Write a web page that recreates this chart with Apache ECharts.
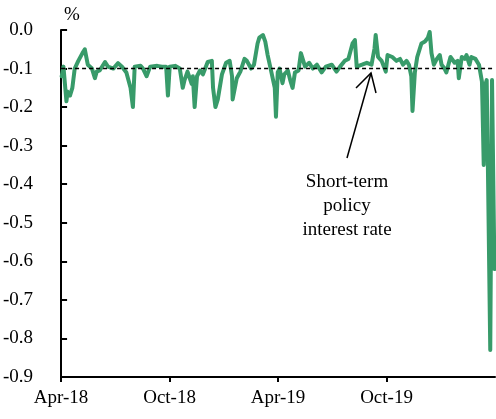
<!DOCTYPE html>
<html>
<head>
<meta charset="utf-8">
<script src="https://cdn.jsdelivr.net/npm/echarts@6.0.0/dist/echarts.min.js"></script>
<style>
  html, body { margin: 0; padding: 0; background: #fff; }
  #chart { width: 496px; height: 419px; }
</style>
</head>
<body>
<div id="chart"></div>
<script>
// x axis: Apr-18 .. Apr-20, ticks every half year
const startDate = '2018-04-01'
const totalDays = 731
const tickLabels = ['Apr-18', 'Oct-18', 'Apr-19', 'Oct-19', '']

// short-term money market rate, %
const dates = [
  '2018-04-02', '2018-04-05', '2018-04-10', '2018-04-12', '2018-04-16', '2018-04-20', '2018-04-24', '2018-04-30',
  '2018-05-07', '2018-05-11', '2018-05-14', '2018-05-16', '2018-05-23', '2018-05-28', '2018-05-31',
  '2018-06-05', '2018-06-14', '2018-06-19', '2018-06-28',
  '2018-07-06', '2018-07-13', '2018-07-20', '2018-07-27', '2018-07-31',
  '2018-08-03', '2018-08-13', '2018-08-17', '2018-08-23', '2018-08-29',
  '2018-09-10', '2018-09-18', '2018-09-25', '2018-09-28',
  '2018-10-01', '2018-10-10', '2018-10-18', '2018-10-23', '2018-10-26', '2018-10-31',
  '2018-11-07', '2018-11-09', '2018-11-12', '2018-11-16', '2018-11-21', '2018-11-26',
  '2018-12-04', '2018-12-11', '2018-12-13', '2018-12-17', '2018-12-21', '2018-12-28',
  '2019-01-04', '2019-01-10', '2019-01-14', '2019-01-15', '2019-01-22', '2019-01-28',
  '2019-02-04', '2019-02-08', '2019-02-15', '2019-02-20', '2019-02-26',
  '2019-03-01', '2019-03-07', '2019-03-11', '2019-03-15', '2019-03-20', '2019-03-27', '2019-03-29',
  '2019-04-01', '2019-04-04', '2019-04-09', '2019-04-12', '2019-04-18', '2019-04-22', '2019-04-26', '2019-04-30',
  '2019-05-06', '2019-05-10', '2019-05-17', '2019-05-24', '2019-05-30',
  '2019-06-06', '2019-06-14', '2019-06-21',
  '2019-07-01', '2019-07-09', '2019-07-15', '2019-07-23', '2019-07-29',
  '2019-08-05', '2019-08-09', '2019-08-12', '2019-08-21', '2019-08-29',
  '2019-09-06', '2019-09-11', '2019-09-13', '2019-09-17', '2019-09-23', '2019-09-30',
  '2019-10-03', '2019-10-11', '2019-10-18', '2019-10-24', '2019-10-29',
  '2019-11-04', '2019-11-08', '2019-11-12', '2019-11-14', '2019-11-18', '2019-11-22', '2019-11-29',
  '2019-12-05', '2019-12-10', '2019-12-13', '2019-12-16', '2019-12-20', '2019-12-25', '2019-12-30',
  '2020-01-02', '2020-01-07', '2020-01-10', '2020-01-17', '2020-01-24', '2020-01-29', '2020-01-31',
  '2020-02-05', '2020-02-10', '2020-02-13', '2020-02-18', '2020-02-21', '2020-02-28',
  '2020-03-05', '2020-03-10', '2020-03-11', '2020-03-13', '2020-03-16', '2020-03-18', '2020-03-20',
  '2020-03-24', '2020-03-27', '2020-03-31'
]
const rates = [
  -0.12, -0.095, -0.185, -0.16, -0.17, -0.15, -0.10, -0.08,
  -0.06, -0.05, -0.05, -0.09, -0.10, -0.125, -0.108,
  -0.105, -0.083, -0.095, -0.10,
  -0.086, -0.096, -0.11, -0.15, -0.20,
  -0.095, -0.093, -0.10, -0.12, -0.095,
  -0.093, -0.095, -0.095, -0.17,
  -0.095, -0.093, -0.10, -0.15, -0.13, -0.108,
  -0.14, -0.12, -0.20, -0.12, -0.105, -0.115,
  -0.083, -0.08, -0.15, -0.20, -0.18, -0.115,
  -0.085, -0.08, -0.12, -0.18, -0.125, -0.108,
  -0.075, -0.08, -0.10, -0.09, -0.035,
  -0.02, -0.013, -0.03, -0.065, -0.10, -0.15, -0.225,
  -0.11, -0.10, -0.138, -0.115, -0.105, -0.13, -0.15, -0.11,
  -0.105, -0.06, -0.095, -0.085, -0.10,
  -0.09, -0.11, -0.095,
  -0.09, -0.108, -0.095, -0.08, -0.075,
  -0.035, -0.026, -0.095, -0.09, -0.085,
  -0.09, -0.048, -0.013, -0.07, -0.08, -0.108,
  -0.065, -0.07, -0.08, -0.075, -0.09,
  -0.08, -0.09, -0.12, -0.21, -0.11, -0.07, -0.035,
  -0.03, -0.02, -0.005, -0.06, -0.09, -0.075, -0.065,
  -0.09, -0.10, -0.11, -0.07, -0.085, -0.08, -0.125,
  -0.07, -0.075, -0.065, -0.09, -0.07, -0.075,
  -0.09, -0.134, -0.20, -0.35, -0.14, -0.13, -0.35,
  -0.83, -0.13, -0.62
]

// policy rate (dashed)
const policyDates = ['2018-04-01', '2020-04-01']
const policyRate = [-0.1, -0.1]

const fontFamily = '"Liberation Serif", "DejaVu Serif", serif'

function toDay (d) {
  return (Date.parse(d) - Date.parse(startDate)) / 86400000
}

let myChart = echarts.init(document.getElementById('chart'))
let option = {
  animation: false,
  grid: {
    left: 61,
    right: 1,
    top: 30,
    bottom: 42
  },
  xAxis: {
    type: 'value',
    min: 0,
    max: totalDays,
    interval: totalDays / 4,
    splitLine: { show: false },
    axisLine: {
      onZero: false,
      lineStyle: { color: '#000', width: 2 }
    },
    axisTick: {
      inside: false,
      length: 5,
      lineStyle: { color: '#000', width: 2 }
    },
    axisLabel: {
      margin: 12,
      color: '#000',
      fontFamily: fontFamily,
      fontSize: 19,
      showMaxLabel: false,
      formatter: function (v) {
        return tickLabels[Math.round(v / (totalDays / 4))] || ''
      }
    }
  },
  yAxis: {
    type: 'value',
    min: -0.9,
    max: 0,
    interval: 0.1,
    splitLine: { show: false },
    axisLine: {
      show: true,
      lineStyle: { color: '#000', width: 2 }
    },
    axisTick: {
      show: true,
      inside: true,
      length: 6,
      lineStyle: { color: '#000', width: 2 }
    },
    axisLabel: {
      margin: 28,
      color: '#000',
      fontFamily: fontFamily,
      fontSize: 19,
      formatter: function (v) {
        return v.toFixed(1)
      }
    }
  },
  series: [
    {
      type: 'line',
      name: 'policy',
      data: policyDates.map((d, i) => [toDay(d), policyRate[i]]),
      showSymbol: false,
      silent: true,
      lineStyle: { color: '#000', width: 1.5, type: [4, 3] },
      z: 3
    },
    {
      type: 'line',
      name: 'rate',
      data: dates.map((d, i) => [toDay(d), rates[i]]),
      showSymbol: false,
      lineStyle: { color: '#389b6a', width: 4, join: 'round', cap: 'round' },
      z: 2
    }
  ],
  graphic: [
    {
      type: 'text',
      left: 64,
      top: 6,
      style: { text: '%', fill: '#000', font: '19px ' + fontFamily }
    },
    {
      type: 'text',
      x: 347,
      y: 170,
      style: {
        text: 'Short-term\npolicy\ninterest rate',
        fill: '#000',
        font: '19px ' + fontFamily,
        align: 'center',
        lineHeight: 24
      }
    },
    {
      type: 'polyline',
      shape: { points: [[347, 158], [371, 73]] },
      style: { stroke: '#000', lineWidth: 1.5, fill: null }
    },
    {
      type: 'polyline',
      shape: { points: [[356, 88], [371, 73], [376, 93]] },
      style: { stroke: '#000', lineWidth: 1.5, fill: null }
    }
  ]
}
myChart.setOption(option)
</script>
</body>
</html>
